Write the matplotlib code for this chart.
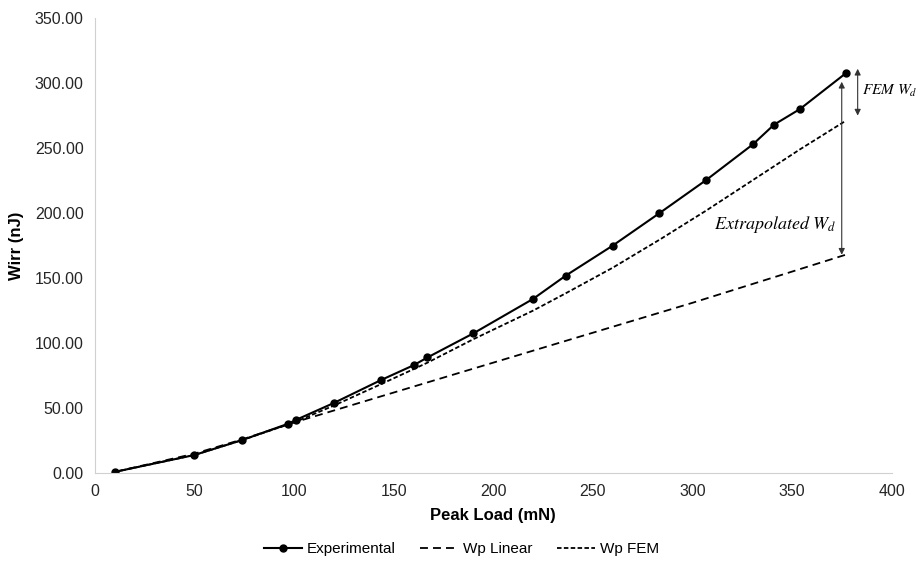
import matplotlib.pyplot as plt

plt.rcParams['font.family'] = ['Liberation Sans', 'DejaVu Sans']
plt.rcParams['mathtext.fontset'] = 'stix'

# Experimental data
carga_exp = [10, 50, 74, 97, 101, 120, 143.5, 160, 167, 190, 220, 236.5, 260, 283.5, 307, 330.5, 341, 354, 377]
wirr_exp = [1, 14, 25.5, 38, 41, 54, 71.5, 83, 89, 107.5, 134, 152, 175, 200, 225.5, 253, 268, 280, 307.5]

# Wp Linear
carga_lin = [10, 50, 74, 100, 150, 200, 250, 300, 350, 377]
wp_lin = [1, 15, 26, 39, 62, 85, 108, 131, 155, 168]

# Wp FEM
carga_fem = [10, 50, 74, 100, 120, 143, 160, 167, 190, 220, 236, 260, 284, 307, 330, 341, 354, 377]
wp_fem = [1, 14, 25.5, 39, 52, 68, 80, 85, 103, 125, 138, 158, 180, 202, 225, 236, 249, 271]

fig = plt.figure(figsize=(9.21, 5.64), dpi=100)
ax = fig.add_axes([0.103, 0.161, 0.865, 0.807])

ax.plot(carga_exp, wirr_exp, color='black', lw=1.5, marker='o', markersize=5, label='Experimental')
ax.plot(carga_lin, wp_lin, color='black', lw=1.3, dashes=(4.4, 2.8), label='Wp Linear')
ax.plot(carga_fem, wp_fem, color='black', lw=1.3, dashes=(2.5, 1.3), label='Wp FEM')

# setas das anotações
seta = dict(arrowstyle='<|-|>', color='#333333', lw=0.8, mutation_scale=9, shrinkA=0, shrinkB=0)
ax.annotate('', xy=(383, 311), xytext=(383, 275), arrowprops=seta)
ax.annotate('', xy=(375, 301), xytext=(375, 168), arrowprops=seta)
ax.text(385, 294, r'$FEM\ W_d$', fontsize=11, va='center', ha='left', clip_on=False)
ax.text(372, 191, r'$Extrapolated\ W_d$', fontsize=13, va='center', ha='right')

ax.set_xlim(0, 400)
ax.set_ylim(0, 350)
ax.set_xticks(range(0, 401, 50))
ax.set_yticks(range(0, 351, 50))
ax.set_yticklabels([f'{v:.2f}' for v in range(0, 351, 50)])
ax.tick_params(length=0, labelsize=11.5, colors='#262626', pad=8)

for lado in ['top', 'right']:
    ax.spines[lado].set_visible(False)
for lado in ['left', 'bottom']:
    ax.spines[lado].set_color('#d0d0d0')

ax.set_xlabel('Peak Load (mN)', fontsize=12, fontweight='bold', labelpad=6)
ax.set_ylabel('Wirr (nJ)', fontsize=12, fontweight='bold', labelpad=8)

ax.legend(loc='center', bbox_to_anchor=(0.46, -0.167), ncol=3, frameon=False,
          fontsize=11, handlelength=2.5, columnspacing=1.6, handletextpad=0.3)

fig.savefig('out.png', dpi=100)
